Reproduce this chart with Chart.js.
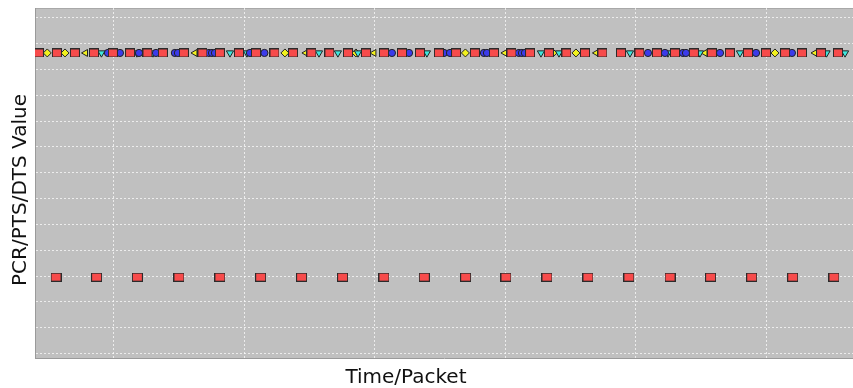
<!DOCTYPE html>
<html>
<head>
<meta charset="utf-8">
<title>PCR/PTS/DTS</title>
<script src="https://cdn.jsdelivr.net/npm/chart.js@4/dist/chart.umd.min.js"></script>
<style>
  html, body { margin: 0; padding: 0; background: #ffffff; }
  #wrap { width: 853px; height: 388px; }
</style>
</head>
<body>
<div id="wrap"><canvas id="streamChart" width="853" height="388"></canvas></div>
<script>
// Values (x: time/packet, y: clock value, arbitrary units)
const xGrid = [10, 20, 30, 40, 50, 60];
const yGrid = [0, 1, 2, 3, 4, 5, 6, 7, 8, 9, 10, 11, 12, 13];

const xLabel = 'Time/Packet';
const yLabel = 'PCR/PTS/DTS Value';

const pcrLevel = 2.96;
const ptsLevel = 11.64;

// PCR samples (lower row)
const pcrTimes = [5.56, 8.67, 11.79, 14.98, 18.12, 21.24, 24.38, 27.52, 30.69, 33.78,
  36.95, 40.04, 43.18, 46.32, 49.46, 52.61, 55.72, 58.87, 62.01, 65.17];

// upper row, one list per marker kind
const redTimes = [4.25, 5.63, 7.01, 8.47, 9.92, 11.23, 12.57, 13.75, 15.36, 16.78,
  18.12, 19.58, 20.88, 22.30, 23.72, 25.13, 26.51, 27.93, 29.31, 30.69,
  32.07, 33.45, 34.90, 36.21, 37.66, 39.12, 40.46, 41.88, 43.33, 44.67,
  46.09, 47.43, 48.85, 50.27, 51.61, 52.99, 54.44, 55.82, 57.20, 58.58,
  59.96, 61.42, 62.72, 64.18, 65.48];
const blueTimes = [9.54, 10.46, 11.92, 13.22, 14.67, 14.90, 17.28, 17.51, 17.74, 20.42,
  21.53, 31.30, 32.61, 35.29, 35.75, 38.35, 38.58, 41.03, 41.26, 41.49,
  50.92, 52.22, 53.60, 53.83, 56.44, 59.20, 61.95];
const cyanTimes = [9.04, 11.76, 12.99, 18.89, 20.19, 25.71, 27.16, 28.70, 33.98, 42.72,
  44.10, 49.54, 52.45, 54.90, 57.97, 64.60, 66.02];
const yellowLeftTimes = [7.82, 16.21, 24.71, 29.92, 39.96, 46.97, 55.29, 63.72];
const yellowDiamondTimes = [4.89, 6.25, 23.10, 28.54, 36.93, 43.64, 45.40, 60.65];

const X_MIN = 3.95, X_MAX = 66.63;
const Y_MIN = -0.17, Y_MAX = 13.38;

function rectMarker(w, h, fill) {
  const c = document.createElement('canvas');
  c.width = w + 1;
  c.height = h + 1;
  const g = c.getContext('2d');
  g.fillStyle = fill;
  g.strokeStyle = '#2b2b2b';
  g.lineWidth = 1;
  g.fillRect(0.5, 0.5, w, h);
  g.strokeRect(0.5, 0.5, w, h);
  return c;
}

function toPoints(times, level) {
  return times.map(t => ({ x: t, y: level }));
}

// grey plot face + top spine
const plotBackground = {
  id: 'plotBackground',
  beforeDraw(chart) {
    const { ctx, chartArea: a } = chart;
    ctx.save();
    ctx.fillStyle = '#ffffff';
    ctx.fillRect(0, 0, chart.width, chart.height);
    ctx.fillStyle = '#c0c0c0';
    ctx.fillRect(a.left, a.top, a.right - a.left, a.bottom - a.top);
    ctx.strokeStyle = '#a8a8a8';
    ctx.beginPath();
    ctx.moveTo(a.left, a.top + 0.5);
    ctx.lineTo(a.right, a.top + 0.5);
    ctx.stroke();
    ctx.restore();
  }
};

// axis labels (the x label sits left of the plot centre in the original)
const axisLabels = {
  id: 'axisLabels',
  afterDraw(chart) {
    const { ctx, chartArea: a } = chart;
    ctx.save();
    ctx.fillStyle = '#111111';
    ctx.font = '20px "DejaVu Sans"';
    ctx.textAlign = 'center';
    ctx.textBaseline = 'alphabetic';
    ctx.fillText(xLabel, a.left + (a.right - a.left) * 0.4535, a.bottom + 25);
    ctx.translate(26, a.top + (a.bottom - a.top) * 0.52);
    ctx.rotate(-Math.PI / 2);
    ctx.fillText(yLabel, 0, 0);
    ctx.restore();
  }
};

const markerBase = { showLine: false, pointBorderColor: '#222222', pointBorderWidth: 1, pointHoverRadius: 0 };
const gridStyle = { color: 'rgba(255,255,255,0.7)', lineWidth: 1, drawTicks: false };
const borderStyle = { display: true, color: '#9a9a9a', width: 1, dash: [2, 2] };

const ctx = document.getElementById('streamChart').getContext('2d');
new Chart(ctx, {
  type: 'scatter',
  data: {
    datasets: [
      { ...markerBase, label: 'PCR', data: toPoints(pcrTimes, pcrLevel),
        pointStyle: rectMarker(10, 8, '#f74b4b') },
      { ...markerBase, label: 'PTS', data: toPoints(redTimes, ptsLevel),
        pointStyle: rectMarker(9, 8, '#f74b4b') },
      { ...markerBase, label: 'DTS', data: toPoints(blueTimes, ptsLevel),
        pointStyle: 'circle', pointRadius: 3.6, backgroundColor: '#3b3bea' },
      { ...markerBase, label: 'B', data: toPoints(cyanTimes, ptsLevel),
        pointStyle: 'triangle', pointRotation: 180, pointRadius: 4.2, backgroundColor: '#3fe6dc' },
      { ...markerBase, label: 'P', data: toPoints(yellowLeftTimes, ptsLevel),
        pointStyle: 'triangle', pointRotation: 270, pointRadius: 4, backgroundColor: '#f2f21e' },
      { ...markerBase, label: 'I', data: toPoints(yellowDiamondTimes, ptsLevel),
        pointStyle: 'rectRot', pointRadius: 4, backgroundColor: '#f2f21e' }
    ]
  },
  options: {
    responsive: false,
    animation: false,
    events: [],
    layout: { autoPadding: false, padding: { left: 35, right: 0, top: 8, bottom: 30 } },
    scales: {
      x: {
        type: 'linear',
        min: X_MIN,
        max: X_MAX,
        afterBuildTicks: axis => { axis.ticks = xGrid.map(v => ({ value: v })); },
        ticks: { display: false },
        grid: gridStyle,
        border: borderStyle
      },
      y: {
        type: 'linear',
        min: Y_MIN,
        max: Y_MAX,
        afterBuildTicks: axis => { axis.ticks = yGrid.map(v => ({ value: v })); },
        ticks: { display: false },
        grid: gridStyle,
        border: borderStyle
      }
    },
    plugins: {
      legend: { display: false },
      tooltip: { enabled: false }
    }
  },
  plugins: [plotBackground, axisLabels]
});
</script>
</body>
</html>
